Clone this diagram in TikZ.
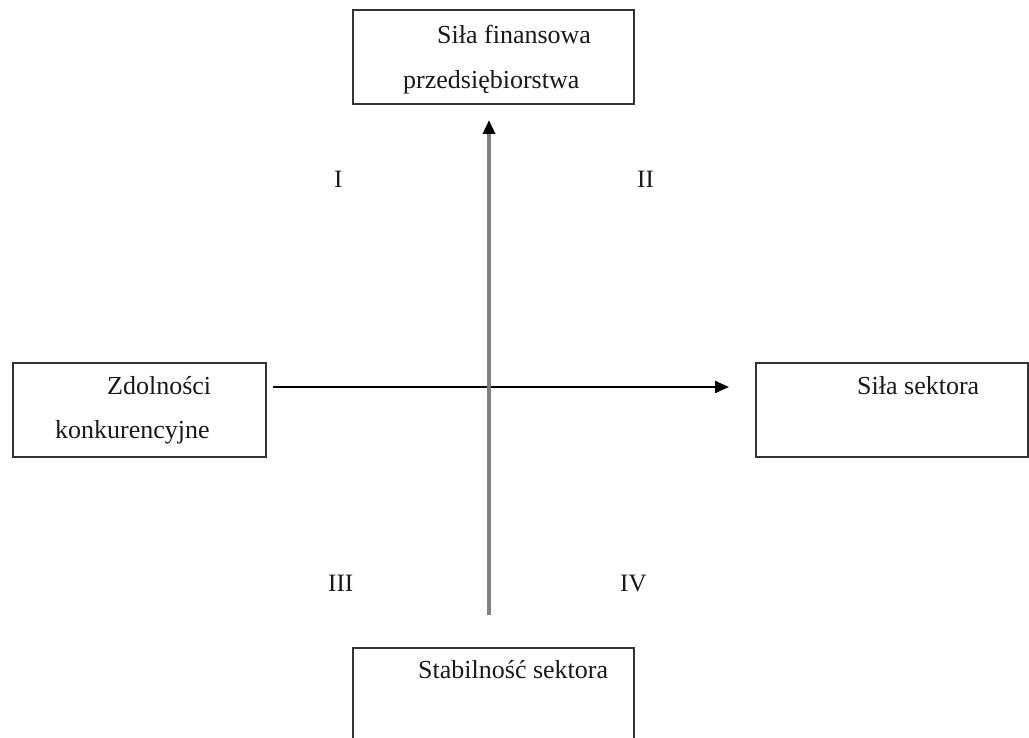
\documentclass[tikz,border=0pt]{standalone}
\usepackage{fontspec}
\setmainfont{Liberation Serif}
\usetikzlibrary{arrows.meta}
\tikzset{
  box/.style={draw=black!80, line width=1.9pt, fill=none, inner sep=0pt, anchor=north west},
  lbl/.style={inner sep=0pt, anchor=base west, font=\fontsize{26}{30}\selectfont, text=black!90},
  quad/.style={inner sep=0pt, anchor=base west, font=\fontsize{25}{30}\selectfont, text=black!90},
  haxis/.style={line width=2.2pt, black, -{Triangle[length=14pt,width=12pt]}},
  vaxis/.style={line width=3.4pt, black!50, -{Triangle[length=14pt,width=12pt,color=black]}},
}
\begin{document}
\begin{tikzpicture}[x=1pt,y=-1pt]
\clip (0,0) rectangle (1029,738);
\fill[white] (0,0) rectangle (1029,738);

% boxes
\node[box, minimum width=281pt, minimum height=94pt] (top) at (352,9) {};
\node[box, minimum width=253pt, minimum height=94pt] (left) at (12,362) {};
\node[box, minimum width=272pt, minimum height=94pt] (right) at (755,362) {};
\node[box, minimum width=281pt, minimum height=110pt] (bottom) at (352,647) {};

% box texts
\node[lbl] (t1) at (437,44) {Siła finansowa};
\node[lbl] (t2) at (403,89) {przedsiębiorstwa};
\node[lbl] (l1) at (107,394) {Zdolności};
\node[lbl] (l2) at (55,438) {konkurencyjne};
\node[lbl] (r1) at (857,394) {Siła sektora};
\node[lbl] (b1) at (418,678) {Stabilność sektora};

% quadrant labels
\node[quad] (q1) at (334,188) {I};
\node[quad] (q2) at (637,188) {II};
\node[quad] (q3) at (328,591) {III};
\node[quad] (q4) at (620,591) {IV};

% axes
\coordinate (hs) at (273,387);
\coordinate (he) at (729,387);
\coordinate (vs) at (489,615);
\coordinate (ve) at (489,120);
\draw[haxis] (hs) -- (he);
\draw[vaxis] (vs) -- (ve);
\end{tikzpicture}
\end{document}
